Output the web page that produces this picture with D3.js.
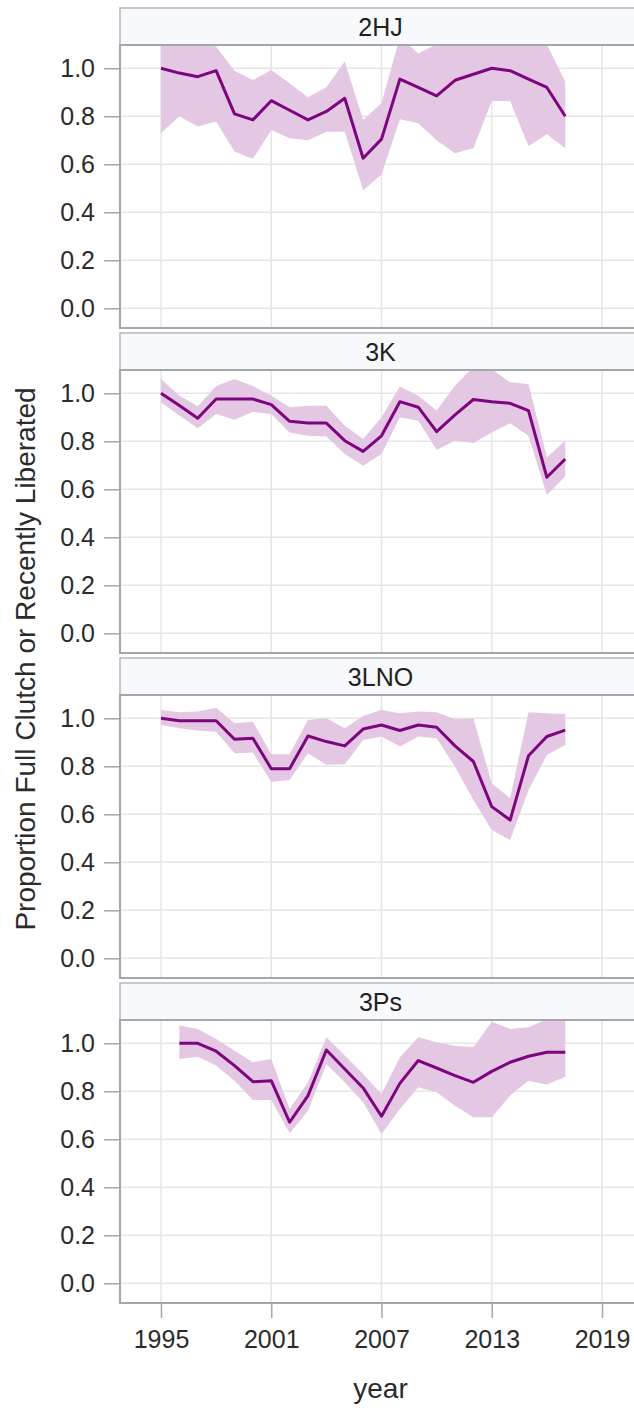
<!DOCTYPE html>
<html>
<head>
<meta charset="utf-8">
<script src="https://cdn.jsdelivr.net/npm/d3@7"></script>
<style>
  html, body { margin: 0; padding: 0; background: #fff; }
  svg { display: block; font-family: "Liberation Sans", Arial, sans-serif; }
</style>
</head>
<body>
<svg id="chart" width="634" height="1410"></svg>
<script>
// Survey years
const years = [1995, 1996, 1997, 1998, 1999, 2000, 2001, 2002, 2003, 2004, 2005, 2006,
               2007, 2008, 2009, 2010, 2011, 2012, 2013, 2014, 2015, 2016, 2017];

// Divisions (one panel each)
const divisions = ["2HJ", "3K", "3LNO", "3Ps"];

// 2HJ: estimate, lower and upper confidence limits
const est2HJ = [1.00, 0.98, 0.965, 0.99, 0.81, 0.785, 0.865, 0.825, 0.785, 0.82, 0.875, 0.625,
                0.705, 0.955, 0.92, 0.885, 0.95, 0.975, 1.00, 0.99, 0.955, 0.92, 0.80];
const lo2HJ  = [0.73, 0.80, 0.757, 0.778, 0.653, 0.622, 0.743, 0.708, 0.70, 0.736, 0.736, 0.493,
                0.556, 0.788, 0.771, 0.70, 0.646, 0.667, 0.864, 0.864, 0.676, 0.725, 0.667];
const hi2HJ  = [1.15, 1.13, 1.12, 1.09, 0.99, 0.951, 0.993, 0.9375, 0.879, 0.921, 1.028, 0.785,
                0.854, 1.13, 1.062, 1.10, 1.15, 1.15, 1.15, 1.15, 1.14, 1.10, 0.944];

// 3K
const est3K = [1.00, 0.949, 0.896, 0.976, 0.976, 0.976, 0.953, 0.883, 0.876, 0.876, 0.8025, 0.758,
               0.823, 0.965, 0.942, 0.84, 0.91, 0.974, 0.965, 0.958, 0.928, 0.65, 0.726];
const lo3K  = [0.962, 0.907, 0.854, 0.914, 0.89, 0.923, 0.914, 0.837, 0.823, 0.82, 0.747, 0.698,
               0.747, 0.90, 0.886, 0.765, 0.8025, 0.793, 0.837, 0.875, 0.823, 0.576, 0.654];
const hi3K  = [1.06, 0.99, 0.946, 1.03, 1.06, 1.03, 0.99, 0.942, 0.948, 0.948, 0.865, 0.81,
               0.90, 1.028, 0.99, 0.928, 1.032, 1.11, 1.10, 1.046, 1.039, 0.733, 0.8025];

// 3LNO
const est3LNO = [1.00, 0.99, 0.99, 0.99, 0.9125, 0.917, 0.79, 0.79, 0.926, 0.903, 0.885, 0.955,
                 0.972, 0.949, 0.972, 0.9625, 0.885, 0.82, 0.632, 0.576, 0.844, 0.924, 0.951];
const lo3LNO  = [0.972, 0.958, 0.949, 0.944, 0.854, 0.857, 0.736, 0.743, 0.854, 0.806, 0.808, 0.91,
                 0.924, 0.882, 0.924, 0.917, 0.799, 0.66, 0.535, 0.493, 0.701, 0.847, 0.889];
const hi3LNO  = [1.035, 1.025, 1.028, 1.044, 0.979, 0.986, 0.85, 0.85, 0.993, 1.00, 0.958, 1.01,
                 1.035, 1.021, 1.028, 1.025, 0.996, 1.00, 0.729, 0.667, 1.025, 1.021, 1.018];

// 3Ps (no estimate in 1995)
const est3Ps = [null, 1.00, 1.00, 0.967, 0.907, 0.84, 0.844, 0.671, 0.782, 0.972, 0.893, 0.814,
                0.696, 0.833, 0.928, 0.897, 0.865, 0.8375, 0.883, 0.921, 0.946, 0.9625, 0.9625];
const lo3Ps  = [null, 0.935, 0.944, 0.907, 0.844, 0.764, 0.764, 0.625, 0.719, 0.914, 0.8375, 0.754,
                0.622, 0.726, 0.817, 0.796, 0.74, 0.692, 0.692, 0.782, 0.844, 0.828, 0.861];
const hi3Ps  = [null, 1.074, 1.06, 1.018, 0.969, 0.921, 0.935, 0.726, 0.8375, 1.025, 0.949, 0.872,
                0.789, 0.942, 1.025, 1.004, 0.99, 0.983, 1.09, 1.06, 1.067, 1.10, 1.10];

// Axis ticks
const xTicks = [1995, 2001, 2007, 2013, 2019];
const yTicks = [0, 0.2, 0.4, 0.6, 0.8, 1.0];

const series = {
  "2HJ":  { est: est2HJ,  lo: lo2HJ,  hi: hi2HJ },
  "3K":   { est: est3K,   lo: lo3K,   hi: hi3K },
  "3LNO": { est: est3LNO, lo: lo3LNO, hi: hi3LNO },
  "3Ps":  { est: est3Ps,  lo: lo3Ps,  hi: hi3Ps }
};

// Layout
const plotLeft = 120, plotRight = 641;
const firstTop = 8, panelStep = 325, stripH = 37, plotH = 283;

const lineColor = "#7d057d";
const bandColor = "rgb(227,199,227)";
const gridColor = "#e6e6e6";
const frameColor = "#a2a7ab";
const textColor = "#2b2b2b";

const svg = d3.select("#chart");

const x = d3.scaleLinear().domain([1995, 2019]).range([161, 602]);
const y = d3.scaleLinear().domain([-0.082, 1.097]).range([plotH, 0]);

divisions.forEach((name, i) => {
  const top = firstTop + i * panelStep;
  const plotTop = top + stripH;
  const s = series[name];
  const rows = years.map((yr, k) => ({ year: yr, est: s.est[k], lo: s.lo[k], hi: s.hi[k] }));

  // Panel header strip
  svg.append("rect")
    .attr("x", plotLeft).attr("y", top)
    .attr("width", plotRight - plotLeft).attr("height", stripH)
    .attr("fill", "#f8f9fd").attr("stroke", "#b4b8bc").attr("stroke-width", 1.5);
  svg.append("text")
    .attr("x", (plotLeft + plotRight) / 2).attr("y", top + stripH / 2)
    .attr("dy", "0.36em").attr("text-anchor", "middle")
    .attr("font-size", 25).attr("fill", "#1f1f1f")
    .text(name);

  const g = svg.append("g").attr("transform", `translate(0,${plotTop})`);

  const clipId = "clip-" + i;
  g.append("clipPath").attr("id", clipId)
    .append("rect").attr("x", plotLeft).attr("y", 0)
    .attr("width", plotRight - plotLeft).attr("height", plotH);

  // Grid
  g.selectAll(".vg").data(xTicks).join("line")
    .attr("x1", d => x(d)).attr("x2", d => x(d))
    .attr("y1", 0).attr("y2", plotH)
    .attr("stroke", gridColor).attr("stroke-width", 1.5);
  g.selectAll(".hg").data(yTicks).join("line")
    .attr("x1", plotLeft).attr("x2", plotRight)
    .attr("y1", d => y(d)).attr("y2", d => y(d))
    .attr("stroke", gridColor).attr("stroke-width", 1.5);

  const clipped = g.append("g").attr("clip-path", `url(#${clipId})`);

  // Confidence band
  const band = d3.area()
    .defined(d => d.lo != null && d.hi != null)
    .x(d => x(d.year)).y0(d => y(d.lo)).y1(d => y(d.hi));
  clipped.append("path").datum(rows)
    .attr("d", band).attr("fill", bandColor).attr("stroke", "none");

  // Estimate line
  const line = d3.line()
    .defined(d => d.est != null)
    .x(d => x(d.year)).y(d => y(d.est));
  clipped.append("path").datum(rows)
    .attr("d", line).attr("fill", "none")
    .attr("stroke", lineColor).attr("stroke-width", 3)
    .attr("stroke-linejoin", "round");

  // Frame
  g.append("rect")
    .attr("x", plotLeft).attr("y", 0)
    .attr("width", plotRight - plotLeft).attr("height", plotH)
    .attr("fill", "none").attr("stroke", frameColor).attr("stroke-width", 2);

  // Y axis
  const yAxis = g.append("g").attr("transform", `translate(${plotLeft},0)`)
    .call(d3.axisLeft(y).tickValues(yTicks).tickFormat(d3.format(".1f")).tickSize(16).tickPadding(9));
  yAxis.select(".domain").remove();
  yAxis.selectAll(".tick line").attr("stroke", frameColor).attr("stroke-width", 1.5);
  yAxis.selectAll(".tick text")
    .attr("font-size", 25).attr("fill", textColor)
    .attr("font-family", "'Liberation Sans', Arial, sans-serif");

  // X axis under the last panel
  if (i === divisions.length - 1) {
    const xAxis = g.append("g").attr("transform", `translate(0,${plotH})`)
      .call(d3.axisBottom(x).tickValues(xTicks).tickFormat(d3.format("d")).tickSize(15).tickPadding(12));
    xAxis.select(".domain").remove();
    xAxis.selectAll(".tick line").attr("stroke", frameColor).attr("stroke-width", 1.5);
    xAxis.selectAll(".tick text")
      .attr("font-size", 25).attr("fill", textColor)
      .attr("font-family", "'Liberation Sans', Arial, sans-serif");
  }
});

// Axis titles
svg.append("text")
  .attr("x", (plotLeft + plotRight) / 2).attr("y", 1398)
  .attr("text-anchor", "middle").attr("font-size", 28).attr("fill", textColor)
  .text("year");

svg.append("text")
  .attr("transform", "translate(35,659) rotate(-90)")
  .attr("text-anchor", "middle").attr("font-size", 28).attr("fill", textColor)
  .text("Proportion Full Clutch or Recently Liberated");
</script>
</body>
</html>
